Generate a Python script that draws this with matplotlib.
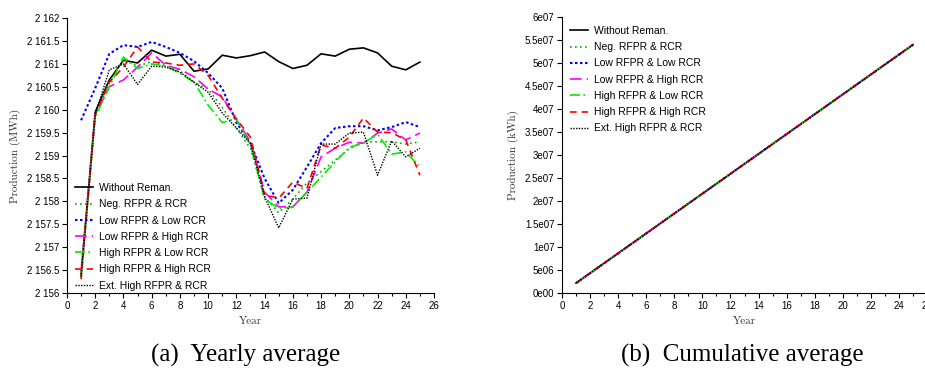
import numpy as np
import matplotlib
matplotlib.use("Agg")
import matplotlib.pyplot as plt
from matplotlib.ticker import FuncFormatter, MultipleLocator

years = np.arange(1, 26)

# yearly average production (MWh)
without = [2156.4, 2159.95, 2160.65, 2161.08, 2161.02, 2161.3, 2161.17, 2161.21, 2160.84, 2160.89,
           2161.19, 2161.13, 2161.18, 2161.26, 2161.05, 2160.9, 2160.97, 2161.22, 2161.17, 2161.32,
           2161.35, 2161.24, 2160.95, 2160.87, 2161.04]
neg = [2156.5, 2159.85, 2160.6, 2161.1, 2160.95, 2161.05, 2160.95, 2160.85, 2160.6, 2160.45,
       2160.05, 2159.6, 2159.15, 2158.1, 2157.75, 2158.05, 2158.4, 2158.65, 2158.9, 2159.15,
       2159.3, 2159.3, 2159.3, 2159.25, 2159.3]
low_low = [2159.77, 2160.47, 2161.22, 2161.41, 2161.37, 2161.48, 2161.37, 2161.24, 2161.06, 2160.8,
           2160.47, 2159.72, 2159.27, 2158.5, 2157.96, 2158.25, 2158.75, 2159.27, 2159.6, 2159.64,
           2159.64, 2159.55, 2159.62, 2159.73, 2159.62]
low_high = [2156.45, 2159.9, 2160.5, 2160.65, 2160.93, 2161.24, 2160.97, 2160.88, 2160.72, 2160.45,
            2160.28, 2159.78, 2159.3, 2158.2, 2157.88, 2157.88, 2158.2, 2158.97, 2159.16, 2159.29,
            2159.27, 2159.49, 2159.58, 2159.34, 2159.49]
high_low = [2156.4, 2159.84, 2160.5, 2161.15, 2160.9, 2161.0, 2160.95, 2160.8, 2160.6, 2160.1,
            2159.72, 2159.8, 2159.22, 2158.05, 2157.85, 2157.87, 2158.2, 2158.53, 2158.86, 2159.18,
            2159.27, 2159.47, 2159.03, 2159.08, 2158.75]
high_high = [2156.3, 2159.9, 2160.6, 2160.93, 2161.37, 2161.04, 2161.02, 2160.97, 2161.0, 2160.75,
             2160.25, 2159.8, 2159.4, 2158.14, 2158.07, 2158.42, 2158.28, 2159.23, 2159.16, 2159.4,
             2159.82, 2159.51, 2159.5, 2159.34, 2158.57]
ext_high = [2156.35, 2159.9, 2160.87, 2161.0, 2160.55, 2160.95, 2160.93, 2160.82, 2160.6, 2160.38,
            2159.93, 2159.6, 2159.27, 2158.1, 2157.42, 2158.05, 2158.07, 2159.25, 2159.25, 2159.49,
            2159.51, 2158.57, 2159.32, 2158.97, 2159.16]

labels = ["Without Reman.", "Neg. RFPR & RCR", "Low RFPR & Low RCR", "Low RFPR & High RCR",
          "High RFPR & Low RCR", "High RFPR & High RCR", "Ext. High RFPR & RCR"]
series = [without, neg, low_low, low_high, high_low, high_high, ext_high]
styles = [
    dict(color="black", ls="-", lw=1.2),
    dict(color="#00b000", ls=(0, (1, 2)), lw=1.2),
    dict(color="blue", ls=(0, (1.2, 1.2)), lw=1.5),
    dict(color="magenta", ls=(0, (7, 3)), lw=1.2),
    dict(color="#00ee00", ls=(0, (6, 2, 1, 2)), lw=1.2),
    dict(color="red", ls=(0, (4, 3)), lw=1.2),
    dict(color="black", ls=(0, (1, 1)), lw=1.0),
]

sans = "Liberation Sans"
plt.rcParams["font.family"] = sans


def fmt_mwh(v, pos):
    s = "{:,.1f}".format(v).replace(",", " ")
    if s.endswith(".0"):
        s = s[:-2]
    return s


def fmt_sci(v, pos):
    if v == 0:
        return "0e00"
    e = int(np.floor(np.log10(abs(v)) + 1e-9))
    m_ = v / 10 ** e
    return "{:g}e{:02d}".format(round(m_, 3), e)


def style_axes(ax):
    for s in ["top", "right"]:
        ax.spines[s].set_visible(False)
    ax.tick_params(direction="out", length=3.5, width=0.8, labelsize=7, pad=2)
    ax.tick_params(which="minor", direction="out", length=2.5, width=0.8)
    ax.xaxis.set_major_locator(MultipleLocator(2))
    ax.xaxis.set_minor_locator(MultipleLocator(1))
    ax.set_xlim(0, 26)
    ax.set_xlabel("Year", fontfamily="cmr10", fontsize=8, color="#333333", labelpad=4)


fig = plt.figure(figsize=(9.25, 3.72), dpi=100)

ax1 = fig.add_axes([0.0724, 0.2124, 0.3968, 0.739])
for y, lab, st in zip(series, labels, styles):
    ax1.plot(years, y, label=lab, **st)
style_axes(ax1)
ax1.set_ylim(2156, 2162)
ax1.yaxis.set_major_locator(MultipleLocator(0.5))
ax1.yaxis.set_major_formatter(FuncFormatter(fmt_mwh))
ax1.set_ylabel("Production (MWh)", fontfamily="cmr10", fontsize=8, color="#333333", labelpad=4)
ax1.legend(loc="upper left", bbox_to_anchor=(0.022, 0.40), frameon=False, fontsize=7.5,
           handlelength=1.7, handletextpad=0.6, labelspacing=0.6, borderpad=0, borderaxespad=0)

ax2 = fig.add_axes([0.6076, 0.2124, 0.3946, 0.7416])
for y, lab, st in zip(series, labels, styles):
    ax2.plot(years, np.cumsum(y) * 1000, label=lab, **st)
style_axes(ax2)
ax2.set_ylim(0, 6e7)
ax2.yaxis.set_major_locator(MultipleLocator(5e6))
ax2.yaxis.set_major_formatter(FuncFormatter(fmt_sci))
ax2.set_ylabel("Production (kWh)", fontfamily="cmr10", fontsize=8, color="#333333", labelpad=4)
ax2.legend(loc="upper left", bbox_to_anchor=(0.022, 0.968), frameon=False, fontsize=7.5,
           handlelength=1.7, handletextpad=0.6, labelspacing=0.6, borderpad=0, borderaxespad=0)

fig.text(246 / 925, 1 - 355 / 372, "(a)  Yearly average", ha="center", va="center",
         fontsize=18, fontfamily="Liberation Serif")
fig.text(742 / 925, 1 - 355 / 372, "(b)  Cumulative average", ha="center", va="center",
         fontsize=18, fontfamily="Liberation Serif")

fig.savefig("out.png", dpi=100)
